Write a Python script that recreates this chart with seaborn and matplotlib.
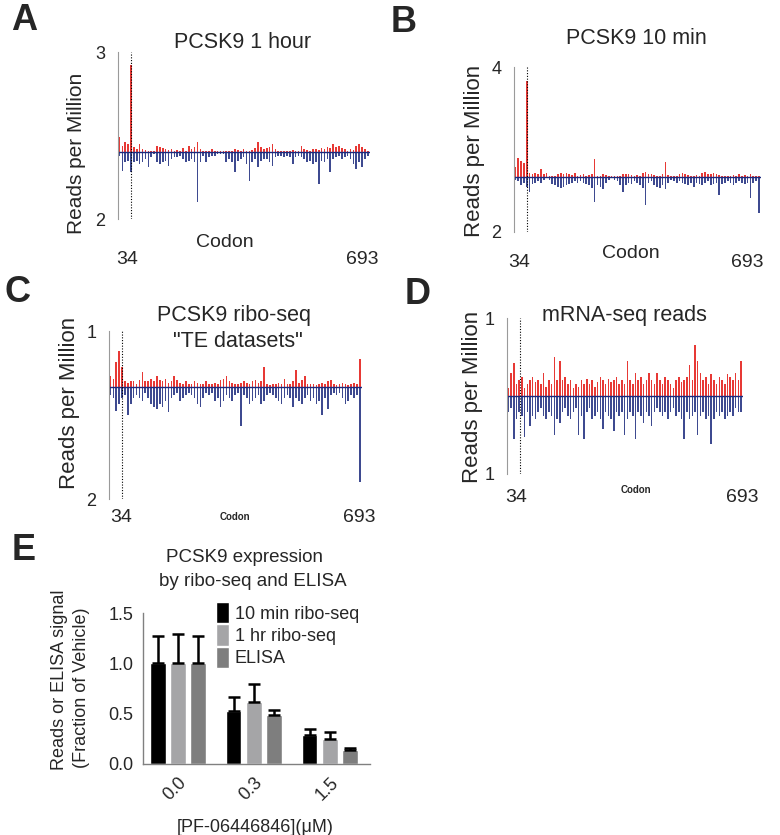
import numpy as np
import pandas as pd
import seaborn as sns
import matplotlib.pyplot as plt

sns.set_style('white')
plt.rcParams['font.family'] = ['Liberation Sans', 'DejaVu Sans']

# ---------------------------------------------------------------
# DATA (one value every 8 codons)
# ---------------------------------------------------------------
codons = np.arange(1, 694, 8)

a_up = [0.45, 0.2, 0.3, 0.25, 2.6, 0.15, 0.1, 0.25, 0.1, 0.08,
        0.05, 0.05, 0.05, 0.2, 0.15, 0.12, 0.1, 0.08, 0.1, 0.05,
        0.08, 0.05, 0.12, 0.05, 0.2, 0.1, 0.15, 0.3, 0.1, 0.05,
        0.05, 0.05, 0.1, 0.05, 0.03, 0.05, 0.03, 0.05, 0.05, 0.03,
        0.1, 0.08, 0.05, 0.1, 0.05, 0.05, 0.08, 0.12, 0.3, 0.15,
        0.1, 0.12, 0.15, 0.25, 0.1, 0.05, 0.03, 0.05, 0.05, 0.05,
        0.08, 0.05, 0.05, 0.2, 0.1, 0.08, 0.05, 0.1, 0.1, 0.08,
        0.12, 0.1, 0.15, 0.12, 0.25, 0.15, 0.2, 0.12, 0.1, 0.05,
        0.1, 0.08, 0.2, 0.25, 0.15, 0.1, 0.05]
a_down = [0.1, 0.55, 0.3, 0.25, 0.6, 0.3, 0.25, 0.35, 0.3, 0.2,
          0.45, 0.15, 0.05, 0.3, 0.35, 0.3, 0.25, 0.4, 0.2, 0.15,
          0.15, 0.1, 0.2, 0.3, 0.25, 0.2, 0.3, 1.5, 0.3, 0.1,
          0.3, 0.15, 0.1, 0.1, 0.05, 0.05, 0.05, 0.3, 0.2, 0.3,
          0.6, 0.25, 0.2, 0.15, 0.35, 0.85, 0.3, 0.2, 0.45, 0.25,
          0.2, 0.2, 0.3, 0.4, 0.15, 0.1, 0.1, 0.15, 0.1, 0.15,
          0.35, 0.15, 0.1, 0.15, 0.2, 0.3, 0.25, 0.35, 0.3, 0.95,
          0.25, 0.3, 0.2, 0.6, 0.2, 0.15, 0.1, 0.2, 0.15, 0.1,
          0.2, 0.35, 0.5, 0.3, 0.45, 0.2, 0.1]

b_up = [0.35, 0.7, 0.6, 0.5, 3.5, 0.15, 0.1, 0.15, 0.1, 0.3,
        0.1, 0.15, 0.05, 0.05, 0.05, 0.1, 0.15, 0.12, 0.15, 0.1,
        0.08, 0.15, 0.05, 0.08, 0.1, 0.05, 0.08, 0.1, 0.65, 0.05,
        0.03, 0.1, 0.08, 0.05, 0.05, 0.05, 0.03, 0.05, 0.1, 0.12,
        0.1, 0.08, 0.05, 0.08, 0.05, 0.15, 0.2, 0.1, 0.12, 0.08,
        0.05, 0.05, 0.1, 0.55, 0.08, 0.05, 0.05, 0.05, 0.1, 0.15,
        0.12, 0.08, 0.05, 0.05, 0.08, 0.05, 0.15, 0.2, 0.12, 0.1,
        0.15, 0.1, 0.08, 0.05, 0.05, 0.03, 0.05, 0.08, 0.05, 0.1,
        0.05, 0.08, 0.05, 0.1, 0.05, 0.05, 0.03]
b_down = [0.1, 0.15, 0.3, 0.2, 0.35, 0.55, 0.25, 0.2, 0.15, 0.2,
          0.1, 0.05, 0.1, 0.25, 0.3, 0.35, 0.4, 0.35, 0.3, 0.25,
          0.2, 0.15, 0.2, 0.15, 0.2, 0.25, 0.3, 0.4, 0.9, 0.3,
          0.35, 0.45, 0.2, 0.1, 0.05, 0.1, 0.15, 0.3, 0.55, 0.3,
          0.2, 0.25, 0.15, 0.2, 0.3, 0.4, 1.0, 0.2, 0.15, 0.3,
          0.35, 0.4, 0.3, 0.45, 0.2, 0.1, 0.15, 0.2, 0.15, 0.2,
          0.25, 0.3, 0.2, 0.35, 0.2, 0.25, 0.3, 0.2, 0.15, 0.3,
          0.25, 0.2, 0.65, 0.25, 0.2, 0.15, 0.2, 0.3, 0.2, 0.15,
          0.2, 0.25, 0.2, 0.75, 0.2, 0.15, 1.3]

c_up = [0.2, 0.15, 0.45, 0.65, 0.35, 0.1, 0.08, 0.1, 0.1, 0.05,
        0.12, 0.27, 0.1, 0.1, 0.15, 0.1, 0.2, 0.12, 0.1, 0.15,
        0.08, 0.1, 0.2, 0.12, 0.08, 0.05, 0.1, 0.05, 0.05, 0.1,
        0.08, 0.05, 0.05, 0.1, 0.05, 0.05, 0.08, 0.05, 0.12, 0.15,
        0.2, 0.1, 0.08, 0.05, 0.05, 0.08, 0.1, 0.08, 0.05, 0.1,
        0.12, 0.08, 0.1, 0.35, 0.05, 0.03, 0.05, 0.05, 0.08, 0.05,
        0.15, 0.05, 0.05, 0.1, 0.3, 0.08, 0.12, 0.2, 0.05, 0.05,
        0.05, 0.03, 0.05, 0.08, 0.05, 0.1, 0.12, 0.05, 0.03, 0.05,
        0.08, 0.05, 0.03, 0.05, 0.08, 0.05, 0.5]
c_down = [0.15, 0.2, 0.43, 0.3, 0.2, 0.15, 0.5, 0.3, 0.2, 0.15,
          0.2, 0.25, 0.1, 0.2, 0.3, 0.35, 0.4, 0.3, 0.35, 0.25,
          0.45, 0.2, 0.15, 0.1, 0.25, 0.2, 0.15, 0.1, 0.15, 0.2,
          0.3, 0.35, 0.2, 0.1, 0.15, 0.1, 0.25, 0.2, 0.35, 0.25,
          0.15, 0.2, 0.25, 0.15, 0.1, 0.7, 0.15, 0.2, 0.3, 0.25,
          0.2, 0.15, 0.3, 0.25, 0.15, 0.1, 0.15, 0.2, 0.25, 0.3,
          0.2, 0.15, 0.2, 0.35, 0.2, 0.25, 0.3, 0.2, 0.15, 0.25,
          0.2, 0.3, 0.25, 0.5, 0.2, 0.4, 0.15, 0.1, 0.15, 0.1,
          0.2, 0.3, 0.25, 0.15, 0.2, 0.15, 1.7]

d_up = [0.1, 0.3, 0.42, 0.15, 0.2, 0.25, 0.1, 0.15, 0.2, 0.25,
        0.18, 0.2, 0.15, 0.3, 0.12, 0.2, 0.15, 0.5, 0.2, 0.45,
        0.2, 0.25, 0.15, 0.2, 0.1, 0.15, 0.12, 0.2, 0.15, 0.22,
        0.15, 0.2, 0.12, 0.18, 0.25, 0.2, 0.15, 0.22, 0.18, 0.2,
        0.25, 0.15, 0.2, 0.15, 0.45, 0.2, 0.15, 0.3, 0.2, 0.25,
        0.15, 0.2, 0.3, 0.2, 0.15, 0.3, 0.2, 0.15, 0.25, 0.2,
        0.15, 0.1, 0.2, 0.25, 0.18, 0.2, 0.25, 0.4, 0.2, 0.65,
        0.45, 0.3, 0.2, 0.25, 0.15, 0.28, 0.2, 0.15, 0.25, 0.2,
        0.15, 0.28, 0.25, 0.2, 0.3, 0.2, 0.45]
d_down = [0.2, 0.15, 0.55, 0.3, 0.2, 0.25, 0.52, 0.2, 0.38, 0.25,
          0.3, 0.2, 0.15, 0.25, 0.3, 0.2, 0.25, 0.5, 0.3, 0.35,
          0.2, 0.15, 0.25, 0.3, 0.2, 0.15, 0.5, 0.25, 0.55, 0.2,
          0.15, 0.3, 0.25, 0.2, 0.3, 0.42, 0.2, 0.25, 0.3, 0.45,
          0.2, 0.25, 0.2, 0.5, 0.3, 0.2, 0.25, 0.55, 0.2, 0.25,
          0.35, 0.2, 0.25, 0.38, 0.2, 0.15, 0.2, 0.25, 0.2, 0.3,
          0.2, 0.15, 0.25, 0.2, 0.3, 0.55, 0.2, 0.3, 0.25, 0.2,
          0.5, 0.25, 0.2, 0.3, 0.25, 0.62, 0.3, 0.2, 0.25, 0.2,
          0.3, 0.25, 0.2, 0.25, 0.15, 0.2, 0.2]

# panel E
doses = ['0.0', '0.3', '1.5']
series = ['10 min ribo-seq', '1 hr ribo-seq', 'ELISA']
mean_10min = [1.0, 0.53, 0.29]
mean_1hr = [1.0, 0.62, 0.25]
mean_elisa = [1.0, 0.49, 0.14]
err_10min = [0.27, 0.14, 0.06]
err_1hr = [0.29, 0.17, 0.07]
err_elisa = [0.27, 0.05, 0.02]

RED = '#e5231f'
NAVY = '#1c2a7d'
GREY = '#9a9a9a'

W, H = 780, 835
fig = plt.figure(figsize=(W / 100, H / 100), dpi=100)


def px_axes(l, t, r, b):
    return fig.add_axes([l / W, 1 - b / H, (r - l) / W, (b - t) / H])


def ftext(x, y, s, **kw):
    kw.setdefault('ha', 'center')
    kw.setdefault('va', 'center')
    fig.text(x / W, 1 - y / H, s, **kw)


def profile(ax, up, down, ymin, ymax, labels):
    ax.bar(codons, up, width=4.5, color=RED, linewidth=0, alpha=0.9)
    ax.bar(codons, [-v for v in down], width=4.5, color=NAVY, linewidth=0, alpha=0.85)
    ax.axhline(0, color=NAVY, lw=1)
    ax.axvline(34, color='black', ls=(0, (1, 1.5)), lw=0.8)
    ax.set_xlim(-3, 695)
    ax.set_ylim(ymin, ymax)
    ax.set_xticks([])
    ax.set_yticks([ymin, 0, ymax])
    ax.set_yticklabels(labels)
    for s in ['top', 'right', 'bottom']:
        ax.spines[s].set_visible(False)
    ax.spines['left'].set_color(GREY)
    ax.spines['left'].set_linewidth(0.8)
    ax.tick_params(axis='y', length=2, color=GREY, pad=7, labelsize=13)
    ax.patch.set_alpha(0)


# ---------------------------------------------------------------
# A - D : codon profiles
# ---------------------------------------------------------------
axA = px_axes(118, 52, 370, 219)
profile(axA, a_up, a_down, -2, 3, ['2', '', '3'])
ftext(24, 20, 'A', fontsize=26, weight='bold')
ftext(243, 43, 'PCSK9 1 hour', fontsize=15.5)
ftext(76, 153, 'Reads per Million', rotation=90, fontsize=15)
ftext(225, 243, 'Codon', fontsize=14)
ftext(127, 260, '34', fontsize=14)
ftext(362, 260, '693', fontsize=14)

axB = px_axes(514, 67, 761, 232)
profile(axB, b_up, b_down, -2, 4, ['2', '', '4'])
ftext(404, 22, 'B', fontsize=26, weight='bold')
ftext(636, 38, 'PCSK9 10 min', fontsize=15.5)
ftext(475, 151, 'Reads per Million', rotation=90, fontsize=16)
ftext(631, 253, 'Codon', fontsize=14)
ftext(519, 262, '34', fontsize=14)
ftext(747, 262, '693', fontsize=14)

axC = px_axes(109, 331, 362, 499)
profile(axC, c_up, c_down, -2, 1, ['2', '', '1'])
ftext(17, 292, 'C', fontsize=26, weight='bold')
ftext(234, 315, 'PCSK9 ribo-seq', fontsize=15.5)
ftext(238, 342, '"TE datasets"', fontsize=15.5)
ftext(70, 403, 'Reads per Million', rotation=90, fontsize=16)
ftext(235, 517, 'Codon', fontsize=7, weight='bold')
ftext(121, 517, '34', fontsize=14)
ftext(359, 517, '693', fontsize=14)

axD = px_axes(507, 318, 743, 474)
profile(axD, d_up, d_down, -1, 1, ['1', '', '1'])
ftext(418, 295, 'D', fontsize=26, weight='bold')
ftext(624, 315, 'mRNA-seq reads', fontsize=15.5)
ftext(473, 397, 'Reads per Million', rotation=90, fontsize=16)
ftext(636, 490, 'Codon', fontsize=7, weight='bold')
ftext(516, 498, '34', fontsize=14)
ftext(742, 498, '693', fontsize=14)

# ---------------------------------------------------------------
# E : grouped bars with error bars
# ---------------------------------------------------------------
means = [mean_10min, mean_1hr, mean_elisa]
errs = [err_10min, err_1hr, err_elisa]
df = pd.DataFrame({
    'dose': doses * len(series),
    'series': [s for s in series for _ in doses],
    'value': [v for m in means for v in m],
})

axE = px_axes(143, 613, 370, 764)
sns.barplot(data=df, x='dose', y='value', hue='series', order=doses, hue_order=series,
            palette=['#000000', '#a5a5a7', '#7e7e7e'], gap=0.22, width=0.8,
            errorbar=None, ax=axE)

for cont, err in zip(axE.containers, errs):
    xs = [p.get_x() + p.get_width() / 2 for p in cont]
    hs = [p.get_height() for p in cont]
    axE.errorbar(xs, hs, yerr=[np.zeros(len(err)), err], fmt='none', ecolor='black',
                 elinewidth=1.8, capsize=4, capthick=1.8)

handles, labels = axE.get_legend_handles_labels()
axE.get_legend().remove()
axE.legend(handles, labels, loc='upper left', bbox_to_anchor=(216 / W, 1 - 602 / H),
           bbox_transform=fig.transFigure, frameon=False, fontsize=13,
           handlelength=0.7, handleheight=1.45, handletextpad=0.35,
           labelspacing=0.05, borderpad=0, borderaxespad=0)

axE.set_xlim(-0.46, 2.53)
axE.set_ylim(0, 1.5)
axE.set_yticks([0, 0.5, 1.0, 1.5])
axE.set_yticklabels(['0.0', '0.5', '1.0', '1.5'])
axE.set_xlabel('')
axE.set_ylabel('')
sns.despine(ax=axE)
for s in ['left', 'bottom']:
    axE.spines[s].set_color('#808080')
    axE.spines[s].set_linewidth(1)
axE.tick_params(length=4, color='#808080', labelsize=13, pad=3)
plt.setp(axE.get_xticklabels(), rotation=45, ha='right', rotation_mode='anchor')

ftext(24, 551, 'E', fontsize=26, weight='bold')
ftext(245, 557, 'PCSK9 expression', fontsize=13.5)
ftext(253, 582, 'by ribo-seq and ELISA', fontsize=13.5)
ftext(60, 680, 'Reads or ELISA signal', rotation=90, fontsize=13)
ftext(81, 688, '(Fraction of Vehicle)', rotation=90, fontsize=13)
ftext(255, 828, '[PF-06446846](μM)', fontsize=13)

fig.savefig('out.png', dpi=100)
